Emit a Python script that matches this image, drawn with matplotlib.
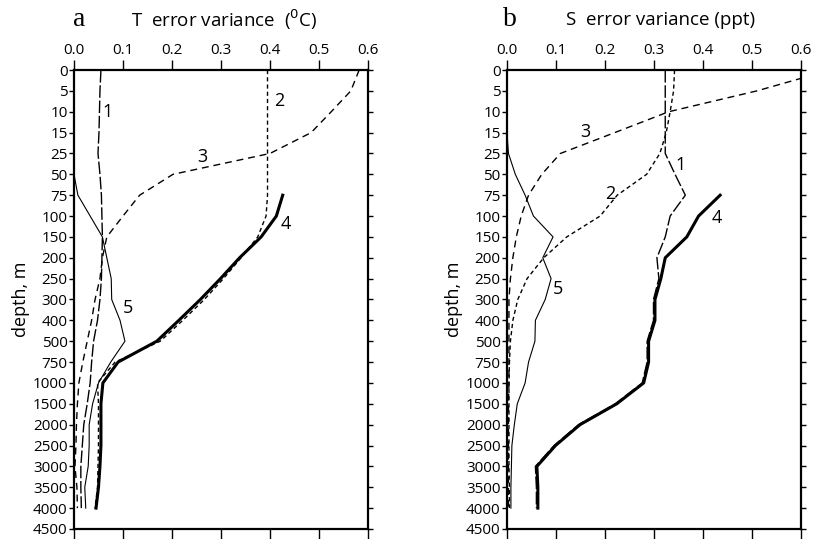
import numpy as np
import matplotlib
matplotlib.use("Agg")
import matplotlib.pyplot as plt

plt.rcParams["font.family"] = ["Open Sans", "DejaVu Sans"]

# depth levels (categorical axis, equally spaced)
depth_ticks = [0, 5, 10, 15, 25, 50, 75, 100, 150, 200, 250, 300, 400, 500, 750,
               1000, 1500, 2000, 2500, 3000, 3500, 4000, 4500]
depths = depth_ticks[:-1]
nan = np.nan

# panel a: T error variance
t1 = [0.055, 0.053, 0.052, 0.051, 0.049, 0.053, 0.056, 0.057, 0.058, 0.057, 0.056,
      0.053, 0.048, 0.040, 0.036, 0.033, 0.027, 0.020, 0.017, 0.014, 0.014, 0.015]
t2 = [0.395, 0.395, 0.395, 0.395, 0.395, 0.395, 0.395, 0.392, 0.375, 0.341, 0.305,
      0.266, 0.222, 0.176, 0.084, 0.048, 0.050, 0.050, 0.050, 0.049, 0.048, 0.043]
t3 = [0.582, 0.565, 0.525, 0.484, 0.400, 0.202, 0.134, 0.100, 0.067, 0.058, 0.053,
      0.043, 0.036, 0.027, 0.018, 0.010, 0.007, 0.005, 0.004, 0.002, 0.006, 0.007]
t4 = [nan, nan, nan, nan, nan, nan, 0.426, 0.413, 0.382, 0.338, 0.299,
      0.258, 0.214, 0.169, 0.090, 0.059, 0.055, 0.055, 0.055, 0.053, 0.050, 0.045]
t5 = [nan, nan, nan, nan, nan, 0.0, 0.008, 0.033, 0.058, 0.067, 0.076,
      0.077, 0.094, 0.104, 0.075, 0.050, 0.038, 0.031, 0.031, 0.029, 0.022, 0.024]

# panel b: S error variance
s1 = [0.323, 0.323, 0.323, 0.323, 0.323, 0.343, 0.364, 0.333, 0.323, 0.306, 0.310,
      0.299, 0.299, 0.286, 0.286, 0.276, 0.221, 0.146, 0.096, 0.058, 0.060, 0.060]
s2 = [0.342, 0.340, 0.333, 0.325, 0.312, 0.285, 0.225, 0.190, 0.122, 0.075, 0.041,
      0.022, 0.012, 0.007, 0.005, 0.004, 0.004, 0.004, 0.004, 0.004, 0.005, 0.005]
s3 = [0.660, 0.510, 0.330, 0.220, 0.109, 0.071, 0.044, 0.029, 0.019, 0.012, 0.007,
      0.004, 0.004, 0.004, 0.004, 0.004, 0.003, 0.003, 0.003, 0.003, 0.003, 0.003]
s4 = [nan, nan, nan, nan, nan, nan, 0.435, 0.391, 0.367, 0.323, 0.314,
      0.302, 0.302, 0.289, 0.289, 0.279, 0.224, 0.149, 0.099, 0.061, 0.063, 0.063]
s5 = [nan, nan, nan, 0.0, 0.003, 0.017, 0.037, 0.054, 0.094, 0.073, 0.090,
      0.078, 0.058, 0.057, 0.044, 0.037, 0.021, 0.015, 0.010, 0.009, 0.008, 0.008]

x_ticks = [0.0, 0.1, 0.2, 0.3, 0.4, 0.5, 0.6]

styles = {
    "1": dict(color="black", lw=1.0, dashes=(9, 2)),
    "2": dict(color="black", lw=1.0, dashes=(3, 2.2)),
    "3": dict(color="black", lw=1.0, dashes=(5, 3.5)),
    "4": dict(color="black", lw=2.2),
    "5": dict(color="black", lw=0.8),
}

fig = plt.figure(figsize=(8.13, 5.39), dpi=100)
ax_a = fig.add_axes([0.091, 0.0186, 0.3616, 0.8515])
ax_b = fig.add_axes([0.6236, 0.0186, 0.3616, 0.8515])

ypos = np.arange(len(depths))


def draw_panel(ax, series, labels):
    for key, vals in series.items():
        ax.plot(vals, ypos, **styles[key])
    for key, (lx, ly) in labels.items():
        ax.text(lx, ly, key, fontsize=13, ha="center", va="center")
    ax.set_xlim(0, 0.6)
    ax.set_ylim(len(depth_ticks) - 1, 0)
    ax.set_xticks(x_ticks)
    ax.set_xticklabels(["%.1f" % v for v in x_ticks])
    ax.set_yticks(np.arange(len(depth_ticks)))
    ax.set_yticklabels([str(d) for d in depth_ticks])
    ax.tick_params(axis="x", which="both", top=True, bottom=True, labeltop=True,
                   labelbottom=False, direction="out", length=7, width=1,
                   labelsize=11, pad=2)
    ax.tick_params(axis="y", left=True, right=True, labelleft=True,
                   direction="out", length=3.5, width=1, labelsize=11, pad=1)
    for sp in ax.spines.values():
        sp.set_linewidth(1.6)
    ax.set_ylabel("depth, m", fontsize=13, labelpad=2)


draw_panel(ax_a, {"1": t1, "2": t2, "3": t3, "5": t5, "4": t4},
           {"1": (0.069, 2.0), "2": (0.418, 1.5), "3": (0.263, 4.15),
            "4": (0.433, 7.4), "5": (0.110, 11.4)})
draw_panel(ax_b, {"1": s1, "2": s2, "3": s3, "5": s5, "4": s4},
           {"1": (0.354, 4.55), "2": (0.211, 5.95), "3": (0.160, 2.95),
            "4": (0.429, 7.1), "5": (0.103, 10.5)})

fig.text(0.098, 0.963, "a", fontsize=20, family="Liberation Serif", ha="center", va="center")
fig.text(0.276, 0.963, "T  error variance  ($^0$C)", fontsize=13.5, ha="center", va="center")
fig.text(0.627, 0.963, "b", fontsize=20, family="Liberation Serif", ha="center", va="center")
fig.text(0.812, 0.963, "S  error variance (ppt)", fontsize=13.5, ha="center", va="center")

fig.savefig("out.png", dpi=100)
